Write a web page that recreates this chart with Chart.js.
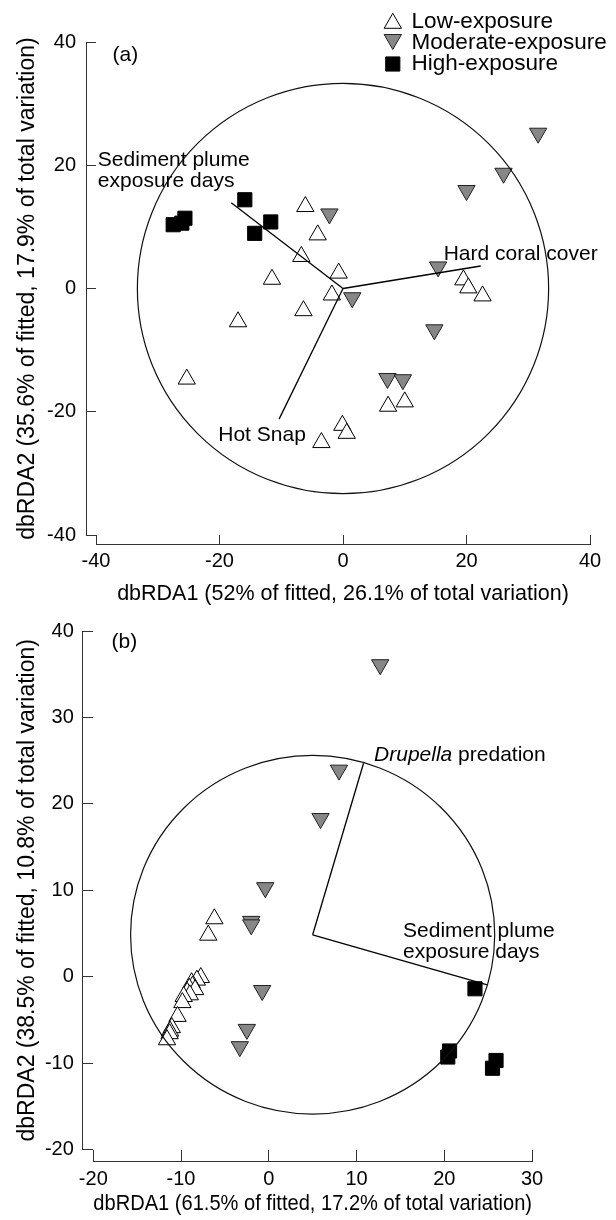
<!DOCTYPE html>
<html lang="en">
<head>
    <meta charset="UTF-8">
    <title>dbRDA ordinations</title>
    <script src="https://cdn.jsdelivr.net/npm/chart.js"></script>
    <style>
        body {
            margin: 0;
            background: #fff;
        }
        canvas {
            display: block;
        }
    </style>
</head>
<body>
    <canvas id="chartA" width="616" height="610"></canvas>
    <canvas id="chartB" width="616" height="610"></canvas>
    <script>
        const FONT = '"Liberation Sans", Arial, Helvetica, sans-serif';
        Chart.defaults.font.family = FONT;
        Chart.defaults.color = '#000';

        const groups = ['Low-exposure', 'Moderate-exposure', 'High-exposure'];

        // panel (a) - site scores [dbRDA1, dbRDA2]
        const lowA = [[-6.1, 13.3], [-4.1, 8.7], [-6.75, 5.2], [-11.5, 1.5], [-0.7, 2.5], [-1.8, -1.05],
            [19.5, 1.4], [20.3, 0.1], [22.6, -1.2], [-6.4, -3.6], [-17.0, -5.4], [-25.3, -14.7],
            [7.3, -19.1], [10.0, -18.4], [-0.1, -22.2], [0.6, -23.5], [-3.5, -25.0]];
        const modA = [[31.6, 25.2], [26.0, 18.7], [20.0, 15.9], [-2.2, 12.1], [15.4, 3.5], [1.5, -1.5],
            [14.8, -6.7], [7.2, -14.6], [9.7, -14.8]];
        const highA = [[-27.5, 10.35], [-26.1, 10.6], [-25.6, 11.4], [-15.9, 14.4], [-11.7, 10.8], [-14.3, 8.95]];
        const vecNamesA = [['Sediment plume', 'exposure days'], ['Hard coral cover'], ['Hot Snap']];
        const vecEndsA = [[-18.1, 13.9], [22.3, 3.65], [-10.35, -21.2]];
        const originA = [0, 0];
        const radiusA = 33.3;
        const ticksA = { x: [-40, 40, 20], y: [-40, 40, 20] };

        // panel (b)
        const lowB = [[-6.2, 6.7], [-6.9, 4.8], [-7.75, -0.1], [-8.2, -0.4], [-8.8, -0.7], [-8.7, -1.1],
            [-9.05, -1.35], [-8.4, -1.5], [-9.3, -1.8], [-9.0, -2.1], [-9.7, -2.3], [-9.85, -3.0],
            [-10.4, -4.6], [-11.05, -5.9], [-11.25, -6.3], [-11.3, -6.6], [-11.6, -7.3]];
        const modB = [[12.7, 36.1], [8.0, 23.9], [5.9, 18.3], [-0.4, 10.3], [-2.0, 6.4], [-2.0, 6.0],
            [-0.75, -1.6], [-2.5, -6.1], [-3.3, -8.1]];
        const highB = [[23.5, -1.4], [20.6, -8.6], [20.4, -9.3], [25.9, -9.7], [25.5, -10.6]];
        const vecNamesB = [['Drupella predation'], ['Sediment plume', 'exposure days']];
        const vecEndsB = [[10.8, 24.7], [24.9, -0.95]];
        const originB = [5.0, 4.85];
        const radiusB = 20.75;
        const ticksB = { x: [-20, 30, 10], y: [-20, 40, 10] };

        // where the vector labels sit (data units, left edge / first baseline)
        const labelPosA = [[-39.7, 19.9], [16.3, 4.7], [-20.2, -24.7]];
        const labelPosB = [[12.0, 25.0], [15.3, 4.6]];

        const pts = arr => arr.map(p => ({ x: p[0], y: p[1] }));

        const markerStyles = {
            'Low-exposure': { pointStyle: 'triangle', rotation: 0, fill: '#fff', stroke: '#000' },
            'Moderate-exposure': { pointStyle: 'triangle', rotation: 180, fill: '#878787', stroke: '#222' },
            'High-exposure': { pointStyle: 'rect', rotation: 0, fill: '#000', stroke: '#000' }
        };

        function buildDatasets(origin, ends, low, mod, high) {
            // vectors first so they are painted over the markers
            const sets = ends.map(e => ({
                data: pts([origin, e]),
                showLine: true,
                pointRadius: 0,
                pointHoverRadius: 0,
                borderColor: '#000',
                borderWidth: 1.3
            }));
            [[groups[2], high], [groups[1], mod], [groups[0], low]].forEach(([name, values]) => {
                const st = markerStyles[name];
                sets.push({
                    label: name,
                    data: pts(values),
                    pointStyle: st.pointStyle,
                    pointRotation: st.rotation,
                    pointRadius: 10,
                    pointHoverRadius: 10,
                    pointBackgroundColor: st.fill,
                    pointBorderColor: st.stroke,
                    pointBorderWidth: 1,
                    showLine: false
                });
            });
            return sets;
        }

        function alignPx(v) {
            return Math.round(v - 0.5) + 0.5;
        }

        const biplot = {
            id: 'biplot',
            afterDatasetsDraw(chart, args, o) {
                const { ctx, chartArea: a, scales: { x, y } } = chart;
                ctx.save();

                // correlation circle
                const cx = x.getPixelForValue(o.origin[0]);
                const cy = y.getPixelForValue(o.origin[1]);
                const rx = x.getPixelForValue(o.origin[0] + o.radius) - cx;
                const ry = cy - y.getPixelForValue(o.origin[1] + o.radius);
                ctx.beginPath();
                ctx.ellipse(cx, cy, rx, ry, 0, 0, Math.PI * 2);
                ctx.lineWidth = 1.2;
                ctx.strokeStyle = '#111';
                ctx.stroke();

                // axis lines sit at the outer end of the tick marks
                const ax = alignPx(a.left - o.yTick);
                const ay = alignPx(a.bottom + o.xTick);
                ctx.lineWidth = 1;
                ctx.strokeStyle = '#333';
                ctx.beginPath();
                ctx.moveTo(ax, alignPx(y.getPixelForValue(y.max)) - 0.5);
                ctx.lineTo(ax, alignPx(y.getPixelForValue(y.min)) + 0.5);
                ctx.moveTo(alignPx(x.getPixelForValue(x.min)) - 0.5, ay);
                ctx.lineTo(alignPx(x.getPixelForValue(x.max)) + 0.5, ay);
                ctx.stroke();

                // vector labels
                ctx.fillStyle = '#000';
                ctx.textAlign = 'left';
                ctx.textBaseline = 'alphabetic';
                o.names.forEach((lines, i) => {
                    const px = x.getPixelForValue(o.labelPos[i][0]);
                    let py = y.getPixelForValue(o.labelPos[i][1]);
                    lines.forEach(line => {
                        if (line.startsWith('Drupella')) {
                            ctx.font = 'italic 21px ' + FONT;
                            ctx.fillText('Drupella', px, py);
                            const w = ctx.measureText('Drupella').width;
                            ctx.font = '21px ' + FONT;
                            ctx.fillText(line.slice(8), px + w, py);
                        } else {
                            ctx.font = '21px ' + FONT;
                            ctx.fillText(line, px, py);
                        }
                        py += 21.5;
                    });
                });

                // panel letter
                ctx.font = '21px ' + FONT;
                ctx.fillText(o.panel, a.left + o.panelAt[0], a.top + o.panelAt[1]);

                // group legend (panel a only)
                if (o.legend) {
                    const rows = [23.3, 39.5, 64];
                    const baselines = [28.3, 49.3, 70];
                    groups.forEach((name, i) => {
                        const st = markerStyles[name];
                        ctx.fillStyle = st.fill;
                        ctx.strokeStyle = st.stroke;
                        ctx.lineWidth = 1;
                        Chart.helpers.drawPoint(ctx, {
                            pointStyle: st.pointStyle, rotation: st.rotation, radius: 10, borderWidth: 1
                        }, 392.8, rows[i]);
                        ctx.fillStyle = '#000';
                        ctx.font = '22.5px ' + FONT;
                        ctx.fillText(name, 411.6, baselines[i]);
                    });
                }
                ctx.restore();
            }
        };

        function makeChart(id, cfg) {
            return new Chart(document.getElementById(id), {
                type: 'scatter',
                data: { datasets: buildDatasets(cfg.origin, cfg.ends, cfg.low, cfg.mod, cfg.high) },
                options: {
                    responsive: false,
                    animation: false,
                    events: [],
                    layout: { padding: cfg.padding },
                    plugins: {
                        legend: { display: false },
                        tooltip: { enabled: false },
                        biplot: {
                            origin: cfg.origin, radius: cfg.radius, names: cfg.names, labelPos: cfg.labelPos,
                            panel: cfg.panel, panelAt: cfg.panelAt, legend: cfg.legend,
                            xTick: cfg.xTick, yTick: cfg.yTick
                        }
                    },
                    scales: {
                        x: {
                            type: 'linear',
                            min: cfg.ticks.x[0],
                            max: cfg.ticks.x[1],
                            afterFit: s => { s.height = cfg.xHeight; },
                            ticks: { stepSize: cfg.ticks.x[2], font: { size: 20 }, padding: cfg.xPad, color: '#000' },
                            grid: { drawOnChartArea: false, drawTicks: true, tickLength: cfg.xTick, color: '#333', lineWidth: 1 },
                            border: { display: false },
                            title: { display: true, text: cfg.xTitle, font: { size: 21.5 }, color: '#000', padding: { top: 0, bottom: 3 } }
                        },
                        y: {
                            type: 'linear',
                            min: cfg.ticks.y[0],
                            max: cfg.ticks.y[1],
                            afterFit: s => { s.width = cfg.yWidth; },
                            ticks: { stepSize: cfg.ticks.y[2], font: { size: 20 }, padding: cfg.yPad, color: '#000' },
                            grid: { drawOnChartArea: false, drawTicks: true, tickLength: cfg.yTick, color: '#333', lineWidth: 1 },
                            border: { display: false },
                            title: { display: true, text: cfg.yTitle, font: { size: 23 }, color: '#000', padding: { top: 14, bottom: 0 } }
                        }
                    }
                },
                plugins: [biplot]
            });
        }

        makeChart('chartA', {
            low: lowA, mod: modA, high: highA, ends: vecEndsA, origin: originA, radius: radiusA,
            names: vecNamesA, labelPos: labelPosA, ticks: ticksA,
            panel: '(a)', panelAt: [16.5, 18.6], legend: true,
            padding: { top: 42, right: 26, bottom: 0, left: 0 },
            xHeight: 75, yWidth: 96, xTick: 9, yTick: 10, xPad: 5, yPad: 10,
            xTitle: 'dbRDA1 (52% of fitted, 26.1% of total variation)',
            yTitle: 'dbRDA2 (35.6% of fitted, 17.9% of total variation)'
        });

        makeChart('chartB', {
            low: lowB, mod: modB, high: highB, ends: vecEndsB, origin: originB, radius: radiusB,
            names: vecNamesB, labelPos: labelPosB, ticks: ticksB,
            panel: '(b)', panelAt: [18.2, 16.6], legend: false,
            padding: { top: 16, right: 84, bottom: 0, left: 0 },
            xHeight: 70.5, yWidth: 93.3, xTick: 12, yTick: 10.5, xPad: 6, yPad: 9,
            xTitle: 'dbRDA1 (61.5% of fitted, 17.2% of total variation)',
            yTitle: 'dbRDA2 (38.5% of fitted, 10.8% of total variation)'
        });
    </script>
</body>
</html>
